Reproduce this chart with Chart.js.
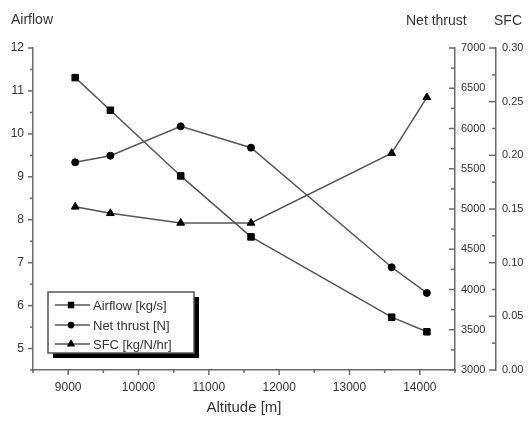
<!DOCTYPE html>
<html>
<head>
<meta charset="utf-8">
<script src="https://cdn.jsdelivr.net/npm/chart.js@4/dist/chart.umd.min.js"></script>
<style>
  html, body { margin: 0; padding: 0; background: #fff; }
  #wrap { width: 528px; height: 421px; position: relative; }
</style>
</head>
<body>
<div id="wrap"><canvas id="chart" width="528" height="421"></canvas></div>
<script>
// Data
const altitude = [9100, 9600, 10600, 11600, 13600, 14100];
const airflow = [11.31, 10.55, 9.02, 7.60, 5.73, 5.39];
const netThrust = [5580, 5662, 6027, 5762, 4276, 3957];
const sfc = [0.152, 0.146, 0.137, 0.137, 0.202, 0.254];

const seriesLabels = ['Airflow [kg/s]', 'Net thrust [N]', 'SFC [kg/N/hr]'];
const axisTitles = ['Airflow', 'Net thrust', 'SFC'];

const FONT = '"Liberation Sans", Arial, sans-serif';
const AXIS_COLOR = '#6a6a6a';
const TEXT_COLOR = '#333';
const LINE_COLOR = '#555';

Chart.defaults.font.family = FONT;
Chart.defaults.color = TEXT_COLOR;

function isMultiple(v, step) {
    return Math.abs(v / step - Math.round(v / step)) < 1e-6;
}

function pairs(ys) {
    return altitude.map((x, i) => ({ x: x, y: ys[i] }));
}

// Origin-style tick marks, axis titles and the shadowed legend
const decorations = {
    id: 'decorations',
    afterDraw(chart) {
        const ctx = chart.ctx;
        const s = chart.scales;
        ctx.save();
        ctx.strokeStyle = AXIS_COLOR;
        ctx.lineWidth = 1.5;

        // x ticks (outward, down)
        s.x.ticks.forEach(t => {
            const px = s.x.getPixelForValue(t.value);
            const len = isMultiple(t.value, 1000) ? 5 : 3;
            ctx.beginPath();
            ctx.moveTo(px, s.x.top);
            ctx.lineTo(px, s.x.top + len);
            ctx.stroke();
        });
        // left axis ticks (outward)
        s.y.ticks.forEach(t => {
            const py = s.y.getPixelForValue(t.value);
            const len = isMultiple(t.value, 1) ? 5 : 3;
            ctx.beginPath();
            ctx.moveTo(s.y.right, py);
            ctx.lineTo(s.y.right - len, py);
            ctx.stroke();
        });
        // right axes ticks (pointing left)
        s.y2.ticks.forEach(t => {
            const py = s.y2.getPixelForValue(t.value);
            const len = isMultiple(t.value, 500) ? 6 : 4;
            ctx.beginPath();
            ctx.moveTo(s.y2.left, py);
            ctx.lineTo(s.y2.left - len, py);
            ctx.stroke();
        });
        s.y3.ticks.forEach(t => {
            const py = s.y3.getPixelForValue(t.value);
            const len = isMultiple(t.value, 0.05) ? 7 : 4;
            ctx.beginPath();
            ctx.moveTo(s.y3.left, py);
            ctx.lineTo(s.y3.left - len, py);
            ctx.stroke();
        });

        // axis titles on top
        ctx.fillStyle = TEXT_COLOR;
        ctx.font = '14px ' + FONT;
        ctx.textBaseline = 'middle';
        ctx.textAlign = 'left';
        ctx.fillText(axisTitles[0], 11, 20);
        ctx.fillText(axisTitles[1], 406, 21);
        ctx.fillText(axisTitles[2], 494, 21);

        // legend box with black drop shadow
        const bx = 48, by = 292, bw = 146, bh = 61;
        ctx.fillStyle = '#000';
        ctx.fillRect(bx + 5, by + 5, bw, bh);
        ctx.fillStyle = '#fff';
        ctx.fillRect(bx, by, bw, bh);
        ctx.strokeStyle = '#555';
        ctx.lineWidth = 1.5;
        ctx.strokeRect(bx, by, bw, bh);

        const rows = [305, 325, 344];
        chart.data.datasets.forEach((ds, i) => {
            const y = rows[i];
            ctx.strokeStyle = LINE_COLOR;
            ctx.lineWidth = 1.5;
            ctx.beginPath();
            ctx.moveTo(55, y);
            ctx.lineTo(90, y);
            ctx.stroke();
            ctx.fillStyle = '#000';
            ctx.strokeStyle = '#000';
            Chart.helpers.drawPoint(ctx, {
                pointStyle: ds.pointStyle,
                radius: ds.pointRadius * 0.75,
                rotation: 0,
                borderWidth: 1
            }, 71, y);
            ctx.fillStyle = TEXT_COLOR;
            ctx.font = '13px ' + FONT;
            ctx.textAlign = 'left';
            ctx.textBaseline = 'middle';
            ctx.fillText(ds.label, 93, y + 1);
        });
        ctx.restore();
    }
};

const lineStyle = {
    borderColor: LINE_COLOR,
    borderWidth: 1.5,
    pointBackgroundColor: '#000',
    pointBorderColor: '#000',
    pointBorderWidth: 1,
    tension: 0,
    fill: false
};

new Chart(document.getElementById('chart'), {
    type: 'line',
    data: {
        datasets: [
            Object.assign({ label: seriesLabels[0], data: pairs(airflow), yAxisID: 'y',
                pointStyle: 'rect', pointRadius: 4.6 }, lineStyle),
            Object.assign({ label: seriesLabels[1], data: pairs(netThrust), yAxisID: 'y2',
                pointStyle: 'circle', pointRadius: 3.5 }, lineStyle),
            Object.assign({ label: seriesLabels[2], data: pairs(sfc), yAxisID: 'y3',
                pointStyle: 'triangle', pointRadius: 4.5 }, lineStyle)
        ]
    },
    options: {
        responsive: false,
        animation: false,
        layout: { padding: { top: 48, left: 0, right: 0, bottom: 0 } },
        plugins: { legend: { display: false }, tooltip: { enabled: false } },
        scales: {
            x: {
                type: 'linear',
                min: 8500, max: 14500,
                grid: { drawOnChartArea: false, drawTicks: false },
                border: { color: AXIS_COLOR, width: 1.5 },
                ticks: {
                    stepSize: 500, autoSkip: false, maxRotation: 0, padding: 10,
                    font: { size: 12 },
                    callback: v => isMultiple(v, 1000) && v > 8500 && v < 14500 ? String(v) : ''
                },
                title: { display: true, text: 'Altitude [m]', font: { size: 15 }, padding: { top: 6 } },
                afterFit: s => { s.height = 51; }
            },
            y: {
                position: 'left',
                min: 4.5, max: 12,
                grid: { drawOnChartArea: false, drawTicks: false },
                border: { color: AXIS_COLOR, width: 1.5 },
                ticks: {
                    stepSize: 0.5, autoSkip: false, padding: 9,
                    font: { size: 12 },
                    callback: v => isMultiple(v, 1) ? String(v) : ''
                },
                afterFit: s => { s.width = 33; }
            },
            y2: {
                position: 'right',
                weight: 0,
                min: 3000, max: 7000,
                grid: { drawOnChartArea: false, drawTicks: false },
                border: { color: AXIS_COLOR, width: 1.5 },
                ticks: {
                    stepSize: 250, autoSkip: false, padding: 6,
                    font: { size: 11 },
                    callback: v => isMultiple(v, 500) ? String(v) : ''
                },
                afterFit: s => { s.width = 41; }
            },
            y3: {
                position: 'right',
                weight: 1,
                min: 0, max: 0.30,
                grid: { drawOnChartArea: false, drawTicks: false },
                border: { color: AXIS_COLOR, width: 1.5 },
                ticks: {
                    stepSize: 0.025, autoSkip: false, padding: 6,
                    font: { size: 11 },
                    callback: v => isMultiple(v, 0.05) ? v.toFixed(2) : ''
                },
                afterFit: s => { s.width = 32; }
            }
        }
    },
    plugins: [decorations]
});
</script>
</body>
</html>
